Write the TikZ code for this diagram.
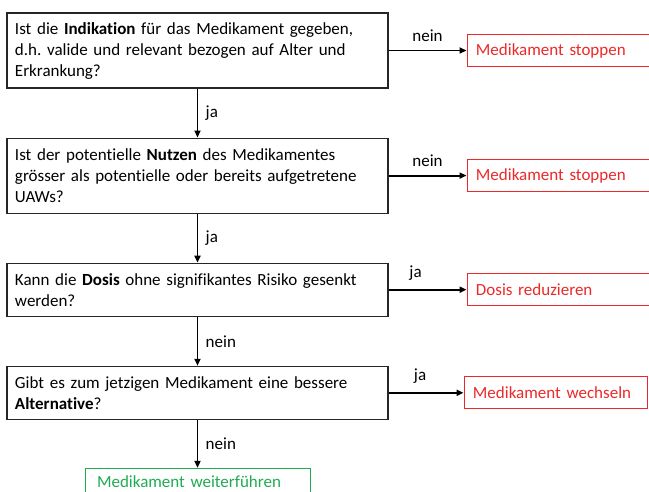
\documentclass[tikz,border=0pt]{standalone}
\usepackage{fontspec}
\setmainfont{Carlito}[Ligatures=NoCommon]
\usetikzlibrary{arrows.meta,positioning}
\definecolor{stopred}{RGB}{236,40,40}
\definecolor{gogreen}{RGB}{30,172,80}
\frenchspacing

\begin{document}
\begin{tikzpicture}[x=1pt, y=-1pt,
    node distance=49pt and 78pt,
    question/.style={rectangle, draw=black!85, line width=1.1pt,
                text width=365pt, inner xsep=8pt, minimum height=75pt,
                align=left, font=\fontsize{17}{21}\selectfont},
    shortq/.style={question, minimum height=53pt},
    stopbox/.style={rectangle, draw=stopred, line width=0.8pt, text=stopred,
                text width=165pt, inner xsep=9pt, minimum height=32pt,
                align=left, font=\fontsize{17}{21}\selectfont},
    gobox/.style={rectangle, draw=gogreen, line width=0.8pt, text=gogreen,
                text width=201pt, inner xsep=12pt, inner ysep=2pt,
                minimum height=27pt, align=left,
                font=\fontsize{17}{20}\selectfont},
    lbl/.style={font=\fontsize{17}{21}\selectfont},
    arrow/.style={-{Triangle[length=7pt,width=6pt]}, line width=1.8pt}
]
\useasboundingbox (0,0) rectangle (649,491);

\node[question] (indik) at (197.5,50.5)
  {Ist die \textbf{Indikation} für das Medikament gegeben,\\
   d.h. valide und relevant bezogen auf Alter und\\
   Erkrankung?};
\node[question, below=of indik] (nutzen)
  {Ist der potentielle \textbf{Nutzen} des Medikamentes\\
   grösser als potentielle oder bereits aufgetretene\\
   UAWs?};
\node[shortq, below=of nutzen] (dosis)
  {Kann die \textbf{Dosis} ohne signifikantes Risiko gesenkt\\
   werden?};
\node[shortq, below=of dosis] (alt)
  {Gibt es zum jetzigen Medikament eine bessere\\
   \textbf{Alternative}?};
\node[gobox, below=48pt of alt] (weiter) {Medikament weiterführen};

\node[stopbox, right=of indik]  (stop1) {Medikament stoppen};
\node[stopbox, right=of nutzen] (stop2) {Medikament stoppen};
\node[stopbox, right=of dosis]  (redu)  {Dosis reduzieren};
\node[stopbox, right=75pt of alt] (wechsel) {Medikament wechseln};

\draw[arrow] (indik)  -- node[lbl, above=5pt] {nein} (stop1);
\draw[arrow] (nutzen) -- node[lbl, above=5pt] {nein} (stop2);
\draw[arrow] (dosis)  -- node[lbl, above=5pt, xshift=-12pt] {ja} (redu);
\draw[arrow] (alt)    -- node[lbl, above=5pt, xshift=-6pt] {ja} (wechsel);

\draw[arrow] (indik)  -- node[lbl, right=4pt] {ja} (nutzen);
\draw[arrow] (nutzen) -- node[lbl, right=4pt] {ja} (dosis);
\draw[arrow] (dosis)  -- node[lbl, right=4pt] {nein} (alt);
\draw[arrow] (alt)    -- node[lbl, right=4pt] {nein} (weiter);
\end{tikzpicture}
\end{document}
